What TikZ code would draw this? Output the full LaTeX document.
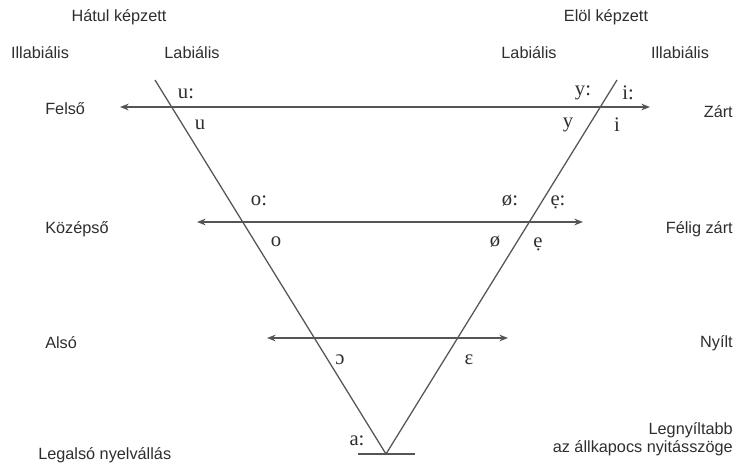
\documentclass[tikz,border=0pt]{standalone}
\usepackage{fontspec}
\setmainfont{Liberation Serif}
\setsansfont{Liberation Sans}
\usetikzlibrary{arrows.meta}
\definecolor{tinta}{HTML}{2E2E2E}
\definecolor{vonalszin}{HTML}{555555}
\tikzset{
  felirat/.style={font=\sffamily\fontsize{12.2}{14}\selectfont,text=tinta,inner sep=0pt},
  hang/.style={font=\fontsize{15.5}{17}\selectfont,text=tinta,inner sep=0pt},
  vonal/.style={draw=vonalszin,line width=0.95pt},
  nyil/.style={vonal,{Stealth[length=6.5pt,width=5pt]}-{Stealth[length=6.5pt,width=5pt]}},
}

\begin{document}
\begin{tikzpicture}[x=0.75pt,y=-0.75pt]
\useasboundingbox (0,0) rectangle (736,465);
% a haromszog csucsai
\coordinate (balfent) at (155,80);
\coordinate (jobbfent) at (617,80);
\coordinate (csucs) at (386,454);
\coordinate (alap1) at (358,454);
\coordinate (alap2) at (415,454);
% nyilak vegpontjai
\coordinate (felso1) at (120,107);
\coordinate (felso2) at (650,107);
\coordinate (kozep1) at (197,222);
\coordinate (kozep2) at (583,222);
\coordinate (also1) at (267,338);
\coordinate (also2) at (508,338);
\draw[vonal] (balfent) -- (csucs);
\draw[vonal] (jobbfent) -- (csucs);
\draw[vonal] (alap1) -- (alap2);
\draw[nyil] (felso1) -- (felso2);
\draw[nyil] (kozep1) -- (kozep2);
\draw[nyil] (also1) -- (also2);
% feliratok
\node[felirat] (hatul) at (119,17) {Hátul képzett};
\node[felirat] (elol) at (606,17) {Elöl képzett};
\node[felirat] (illab1) at (40,53) {Illabiális};
\node[felirat] (lab1) at (192,53) {Labiális};
\node[felirat] (lab2) at (529,53) {Labiális};
\node[felirat] (illab2) at (680,53) {Illabiális};
\node[felirat,anchor=west] (felso) at (45,109) {Felső};
\node[felirat,anchor=west] (kozepso) at (45,229) {Középső};
\node[felirat,anchor=west] (also) at (45,343) {Alsó};
\node[felirat,anchor=west] (legalso) at (38,455) {Legalsó nyelvállás};
\node[felirat,anchor=east] (zart) at (733,112) {Zárt};
\node[felirat,anchor=east] (feligzart) at (733,229) {Félig zárt};
\node[felirat,anchor=east] (nyilt) at (733,343) {Nyílt};
\node[felirat,anchor=east] (legnyiltabb) at (733,430) {Legnyíltabb};
\node[felirat,anchor=east] (allkapocs) at (733,448) {az állkapocs nyitásszöge};
% maganhangzok
\node[hang] (uu) at (186,94) {u:};
\node[hang] (u) at (200,125) {u};
\node[hang] (yy) at (583,93) {y:};
\node[hang] (ii) at (628,93) {i:};
\node[hang] (y) at (568,125) {y};
\node[hang] (i) at (617,125) {i};
\node[hang] (oo) at (259,201) {o:};
\node[hang] (o) at (276,242) {o};
\node[hang] (oeoe) at (510,201) {ø:};
\node[hang] (ee) at (558,202) {ẹ:};
\node[hang] (oe) at (495,242) {ø};
\node[hang] (e) at (538,244) {ẹ};
\node[hang] (nyo) at (340,360) {ɔ};
\node[hang] (nye) at (469,360) {ɛ};
\node[hang] (aa) at (357,441) {a:};
\end{tikzpicture}
\end{document}
